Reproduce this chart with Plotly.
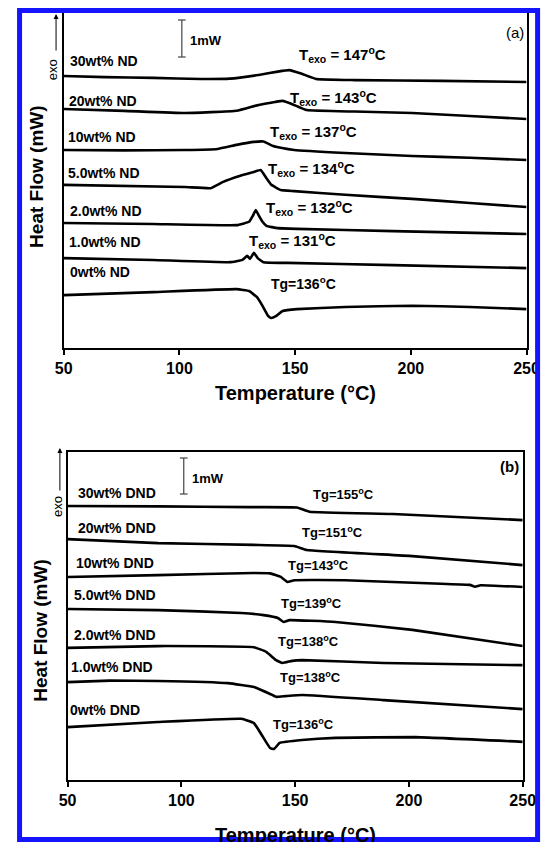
import plotly.graph_objects as go

W, H = 553, 842

# ---------------- Panel (a): ND composites ----------------
a_labels = ["30wt% ND", "20wt% ND", "10wt% ND", "5.0wt% ND", "2.0wt% ND", "1.0wt% ND", "0wt% ND"]
a_notes = ["T<sub>exo</sub> = 147<sup>o</sup>C", "T<sub>exo</sub> = 143<sup>o</sup>C",
           "T<sub>exo</sub> = 137<sup>o</sup>C", "T<sub>exo</sub> = 134<sup>o</sup>C",
           "T<sub>exo</sub> = 132<sup>o</sup>C", "T<sub>exo</sub> = 131<sup>o</sup>C",
           "Tg=136<sup>o</sup>C"]

a30_T = [50, 67.8, 88.6, 109.3, 121.8, 134.2, 142.5, 147.5, 152.9, 159.1, 175.7, 213.1, 250]
a30_H = [7.35, 7.32, 7.30, 7.27, 7.28, 7.38, 7.47, 7.51, 7.41, 7.27, 7.24, 7.22, 7.19]

a20_T = [50, 76.1, 102.3, 124.7, 134.2, 141.3, 144.6, 148.8, 155.0, 175.7, 200.6, 225.5, 250]
a20_H = [6.46, 6.41, 6.35, 6.41, 6.57, 6.65, 6.68, 6.59, 6.43, 6.39, 6.35, 6.27, 6.19]

a10_T = [50, 76.1, 102.3, 116.4, 124.7, 132.2, 136.3, 140.5, 143.8, 149.6, 171.6, 200.6, 225.5, 250]
a10_H = [5.35, 5.34, 5.35, 5.38, 5.49, 5.57, 5.58, 5.46, 5.41, 5.35, 5.27, 5.19, 5.14, 5.08]

a5_T = [50, 102.3, 113.5, 118.9, 126.0, 132.2, 135.1, 137.6, 139.7, 143.8, 149.6, 171.6, 200.6, 225.5, 250]
a5_H = [4.41, 4.35, 4.32, 4.49, 4.65, 4.76, 4.81, 4.59, 4.41, 4.27, 4.24, 4.14, 4.03, 3.92, 3.81]

a2_T = [50, 88.6, 124.7, 130.1, 131.7, 133.0, 134.2, 135.9, 137.6, 142.5, 150.8, 192.3, 250]
a2_H = [3.38, 3.35, 3.32, 3.41, 3.57, 3.73, 3.59, 3.41, 3.30, 3.24, 3.22, 3.16, 3.08]

a1_T = [50, 88.6, 121.8, 127.2, 129.3, 130.5, 132.2, 133.8, 136.3, 146.7, 192.3, 250]
a1_H = [2.43, 2.38, 2.32, 2.38, 2.49, 2.41, 2.57, 2.43, 2.32, 2.30, 2.24, 2.16]

a0_T = [50, 88.6, 124.7, 130.1, 133.4, 135.9, 138.4, 139.6, 141.7, 144.6, 150.8, 171.6, 200.6, 225.5, 250]
a0_H = [1.43, 1.51, 1.59, 1.54, 1.38, 1.14, 0.86, 0.81, 0.86, 1.00, 1.05, 1.11, 1.14, 1.11, 1.05]

# ---------------- Panel (b): DND composites ----------------
b_labels = ["30wt% DND", "20wt% DND", "10wt% DND", "5.0wt% DND", "2.0wt% DND", "1.0wt% DND", "0wt% DND"]
b_notes = ["Tg=155<sup>o</sup>C", "Tg=151<sup>o</sup>C", "Tg=143<sup>o</sup>C", "Tg=139<sup>o</sup>C",
           "Tg=138<sup>o</sup>C", "Tg=138<sup>o</sup>C", "Tg=136<sup>o</sup>C"]

b30_T = [50, 89.7, 129.7, 150.8, 156.3, 193.0, 250]
b30_H = [7.61, 7.60, 7.58, 7.57, 7.45, 7.39, 7.22]

b20_T = [50, 89.7, 131.9, 149.6, 155.1, 201.5, 250]
b20_H = [6.69, 6.58, 6.53, 6.50, 6.39, 6.22, 5.97]

b10_T = [50, 89.7, 131.9, 139.0, 143.7, 146.6, 149.6, 171.9, 214.1, 226.8, 229.0, 231.5, 250]
b10_H = [5.64, 5.69, 5.75, 5.74, 5.64, 5.50, 5.55, 5.55, 5.45, 5.42, 5.37, 5.41, 5.36]

b5_T = [50, 89.7, 126.4, 136.1, 142.4, 144.9, 147.5, 167.7, 201.5, 250]
b5_H = [4.75, 4.72, 4.64, 4.58, 4.50, 4.39, 4.44, 4.39, 4.17, 3.72]

b2_T = [50, 89.7, 131.9, 137.3, 141.6, 144.5, 148.7, 153.0, 188.8, 250]
b2_H = [3.67, 3.72, 3.69, 3.56, 3.33, 3.25, 3.31, 3.33, 3.25, 3.19]

b1_T = [50, 68.6, 89.7, 120.5, 131.9, 139.0, 141.6, 145.8, 153.0, 188.8, 250]
b1_H = [2.72, 2.76, 2.75, 2.69, 2.58, 2.39, 2.31, 2.33, 2.36, 2.22, 1.97]

b0_T = [50, 89.7, 126.4, 131.9, 136.1, 139.0, 140.7, 143.2, 153.0, 167.7, 202.7, 250]
b0_H = [1.47, 1.61, 1.70, 1.58, 1.17, 0.89, 0.86, 1.03, 1.11, 1.17, 1.19, 1.06]

x_ticks = [50, 100, 150, 200, 250]

a_series = [(a30_T, a30_H), (a20_T, a20_H), (a10_T, a10_H), (a5_T, a5_H),
            (a2_T, a2_H), (a1_T, a1_H), (a0_T, a0_H)]
b_series = [(b30_T, b30_H), (b20_T, b20_H), (b10_T, b10_H), (b5_T, b5_H),
            (b2_T, b2_H), (b1_T, b1_H), (b0_T, b0_H)]

FONT = "Arial, Liberation Sans, sans-serif"

fig = go.Figure()
for (t, h), name in zip(a_series, a_labels):
    fig.add_trace(go.Scatter(x=t, y=h, mode="lines", name=name, xaxis="x", yaxis="y",
                             line=dict(color="black", width=2.6, shape="spline", smoothing=0.3),
                             showlegend=False, hoverinfo="skip"))
for (t, h), name in zip(b_series, b_labels):
    fig.add_trace(go.Scatter(x=t, y=h, mode="lines", name=name, xaxis="x2", yaxis="y2",
                             line=dict(color="black", width=2.6, shape="spline", smoothing=0.3),
                             showlegend=False, hoverinfo="skip"))


def px(x):
    return x / W


def py(y):
    return 1 - y / H


# plot boxes in pixels: (left, top, right, bottom)
box_a = (57, 13, 539, 348)
box_b = (61, 452, 535, 780)
mw_a = 37.0  # px per mW
mw_b = 36.0

axis_common = dict(showline=True, linecolor="black", linewidth=1.5, mirror=True,
                   showgrid=False, zeroline=False)
xcommon = dict(axis_common, range=[50, 250], tickvals=x_ticks,
               ticktext=["<b>%d</b>" % v for v in x_ticks], ticks="outside", ticklen=5,
               tickwidth=1.5, tickcolor="black",
               tickfont=dict(family=FONT, size=16, color="black"))
ycommon = dict(axis_common, showticklabels=False, ticks="")

fig.update_layout(
    width=W, height=H, margin=dict(l=0, r=0, t=0, b=0),
    paper_bgcolor="white", plot_bgcolor="white",
    xaxis=dict(xcommon, domain=[px(box_a[0]), px(box_a[2])], anchor="y"),
    yaxis=dict(ycommon, domain=[py(box_a[3]), py(box_a[1])], anchor="x",
               range=[0, (box_a[3] - box_a[1]) / mw_a]),
    xaxis2=dict(xcommon, domain=[px(box_b[0]), px(box_b[2])], anchor="y2"),
    yaxis2=dict(ycommon, domain=[py(box_b[3]), py(box_b[1])], anchor="x2",
                range=[0, (box_b[3] - box_b[1]) / mw_b]),
)

ann = []


def text(x, y, s, size=14, bold=True, anchor="left", angle=0):
    ann.append(dict(xref="paper", yref="paper", x=px(x), y=py(y), text=("<b>%s</b>" % s) if bold else s,
                    showarrow=False, xanchor=anchor, yanchor="middle", textangle=angle,
                    font=dict(family=FONT, size=size, color="black")))


# curve labels panel (a)
a_lab_pos = [(61, 61), (60, 101), (59, 137), (59, 173), (61, 211), (60, 242), (61, 272)]
a_note_pos = [(300, 55), (291, 97), (270, 132), (268, 168), (266, 207), (248, 240), (271, 283)]
for s, (x, y) in zip(a_labels, a_lab_pos):
    text(x, y, s, 14)
for i, (s, (x, y)) in enumerate(zip(a_notes, a_note_pos)):
    text(x, y, s, 15 if i < 6 else 14)

b_lab_pos = [(70, 493), (70, 528), (68, 563), (66, 595), (66, 635), (63, 667), (61, 710)]
b_note_pos = [(315, 494), (303, 532), (288, 565), (281, 603), (278, 641), (280, 677), (273, 724)]
for s, (x, y) in zip(b_labels, b_lab_pos):
    text(x, y, s, 14)
for s, (x, y) in zip(b_notes, b_note_pos):
    text(x, y, s, 13)

# axis titles
text(298, 393, "Temperature (°C)", 20, anchor="center")
text(298, 835, "Temperature (°C)", 20, anchor="center")
text(28, 176, "Heat Flow (mW)", 19, anchor="center", angle=-90)
text(32, 630, "Heat Flow (mW)", 19, anchor="center", angle=-90)

# panel tags
text(527, 32, "(a)", 15, bold=False, anchor="center")
text(521, 467, "(b)", 15, anchor="center")

# scale bars text
text(186, 40, "1mW", 13)
text(188, 478, "1mW", 13)

# exo labels with arrows
text(45, 70, "exo", 13, bold=False, anchor="center", angle=-90)
text(50, 507, "exo", 13, bold=False, anchor="center", angle=-90)
for (x, y0, y1) in [(49, 52, 14), (53, 492, 448)]:
    ann.append(dict(xref="paper", yref="paper", x=px(x), y=py(y1), ax=0, ay=(y0 - y1),
                    axref="pixel", ayref="pixel", text="", showarrow=True, arrowhead=2,
                    arrowsize=1, arrowwidth=1, arrowcolor="black"))

fig.update_layout(annotations=ann)

shapes = []
# scale bars (1 mW)
for (x, ytop, ybot) in [(180, 20, 57), (182, 458, 494)]:
    shapes.append(dict(type="line", xref="paper", yref="paper", x0=px(x), x1=px(x),
                       y0=py(ytop), y1=py(ybot), line=dict(color="#444", width=1.2)))
    for yy in (ytop, ybot):
        shapes.append(dict(type="line", xref="paper", yref="paper", x0=px(x - 4), x1=px(x + 4),
                           y0=py(yy), y1=py(yy), line=dict(color="#444", width=1.2)))

# blue frame
shapes.append(dict(type="rect", xref="paper", yref="paper", x0=px(11), x1=px(550.5),
                   y0=py(839.5), y1=py(10.5), line=dict(color="#1414ff", width=5), layer="above"))
fig.update_layout(shapes=shapes)

fig.write_html("out.html")
